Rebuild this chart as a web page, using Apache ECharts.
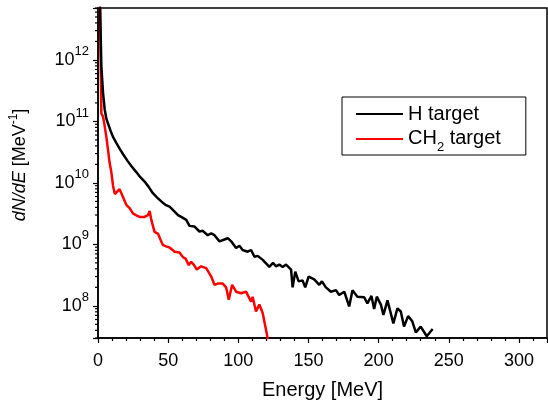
<!DOCTYPE html>
<html>
<head>
<meta charset="utf-8">
<script src="https://cdn.jsdelivr.net/npm/echarts@6/dist/echarts.min.js"></script>
<style>
  html, body { margin: 0; padding: 0; background: #fff; }
  #chart { width: 548px; height: 400px; }
</style>
</head>
<body>
<div id="chart"></div>
<script>
// H target spectrum (energy in MeV, dN/dE in MeV^-1)
const hEnergy = [1.2, 2.4, 3.6, 4.8, 6, 7.1, 9, 10.7, 13, 15.4, 18, 21.3, 24, 27.3, 30, 33.2, 36, 39.1, 42, 45.1,
  48, 51, 54.6, 57, 59.3, 62.9, 65.2, 68.8, 72.3, 74.7, 78.2, 80.7, 83, 86.6, 90.1, 92.5, 94.9, 98.4, 100.8, 103.1,
  106.7, 109.1, 111.5, 113.8, 117.4, 122.1, 124.7, 126.9, 129.2, 131.6, 134, 137.6, 138.7, 140.6, 143, 145.8, 147.7, 150.1, 154.1, 157.7,
  159.6, 162.4, 166, 169.6, 171.9, 175.5, 179, 181.4, 184.9, 186.1, 189.7, 192, 194.9, 196.8, 198.7, 201.6, 203.4, 206.3, 210.5, 213.4,
  215.8, 218.1, 221, 224, 226.5, 230, 234.3, 238.5];
const hFlux = [1.5e13, 7.8e11, 2.9e11, 1.55e11, 1.1e11, 9.3e10, 7e10, 5.6e10, 4.5e10, 3.6e10, 2.9e10, 2.24e10, 1.85e10, 1.5e10, 1.25e10, 1.05e10, 8.7e9, 6.8e9, 5.8e9, 5.0e9,
  4.4e9, 4.1e9, 3.4e9, 3.0e9, 2.8e9, 2.5e9, 2.0e9, 1.95e9, 1.62e9, 1.66e9, 1.41e9, 1.51e9, 1.41e9, 1.12e9, 1.2e9, 1.26e9, 1.12e9, 8.7e8, 9.5e8, 8.1e8,
  7.6e8, 8.1e8, 6.3e8, 6.5e8, 5.6e8, 4.3e8, 5.0e8, 4.4e8, 4.7e8, 4.3e8, 4.7e8, 3.9e8, 2.0e8, 3.6e8, 2.5e8, 2.6e8, 2.0e8, 3.0e8, 2.7e8, 2.2e8,
  2.5e8, 2.0e8, 1.7e8, 1.8e8, 1.5e8, 1.7e8, 9.8e7, 1.8e8, 1.4e8, 1.38e8, 1.38e8, 1.1e8, 1.45e8, 8.9e7, 1.41e8, 1.05e8, 7.1e7, 1.23e8, 5.2e7, 9.1e7,
  8.1e7, 4.6e7, 6.8e7, 5.6e7, 3.7e7, 4.6e7, 3.2e7, 4.2e7];

// CH2 target spectrum
const ch2Energy = [1.2, 2.4, 3.6, 4.8, 6, 7.1, 8.3, 9.5, 10.7, 12, 13.1, 15.4, 17.8, 20.2, 22.5, 24.9, 27, 29.7, 33.2, 35.6,
  36.8, 38, 40.3, 42.7, 44.5, 46.2, 48.5, 51, 54.6, 58.1, 60.5, 62.5, 64.7, 66.4, 68.5, 70.4, 73.5, 77.1, 80.7, 83,
  85.3, 88.9, 91.3, 93.2, 95.6, 98.4, 102, 105.5, 109.1, 110.2, 112.6, 115, 117.4, 120.9, 122];
const ch2Flux = [1.5e13, 1.35e11, 1.2e11, 8.3e10, 5.5e10, 3.5e10, 2.1e10, 1.5e10, 9e9, 6.6e9, 6.3e9, 7.9e9, 5.9e9, 4.4e9, 3.9e9, 3.2e9, 3.0e9, 2.8e9, 2.8e9, 3.0e9,
  3.5e9, 2.5e9, 1.6e9, 1.5e9, 1.2e9, 9.8e8, 9.3e8, 8.9e8, 7.6e8, 7.4e8, 6.2e8, 5.8e8, 4.6e8, 5.2e8, 4.6e8, 3.9e8, 4.4e8, 4.1e8, 3.0e8, 2.2e8,
  2.3e8, 2.3e8, 2.0e8, 1.26e8, 2.2e8, 1.7e8, 1.6e8, 1.7e8, 1.17e8, 1.4e8, 8.1e7, 1.05e8, 7.6e7, 3e7, 1.5e7];

const seriesNames = ['H target', 'CH2 target'];
const seriesColors = ['#000000', '#ff0000'];

const yMin = 3e7;
const yMax = 7e12;
const xMin = 0;
const xMax = 320;

// log minor tick positions (2..9 x 10^n) inside the y range
const minorTickValues = [];
for (let n = 7; n <= 12; n++) {
  for (let k = 2; k <= 9; k++) {
    const v = k * Math.pow(10, n);
    if (v >= yMin && v <= yMax) minorTickValues.push([0, v]);
  }
}

const font = 'Liberation Sans';
const chart = echarts.init(document.getElementById('chart'));

const option = {
  backgroundColor: '#fff',
  animation: false,
  grid: {
    left: 98, right: 1, top: 8, bottom: 62,
    show: true, borderColor: '#000', borderWidth: 1.5,
    outerBoundsMode: 'none'
  },
  legend: {
    data: seriesNames.map(n => ({ name: n, icon: 'rect' })),
    orient: 'vertical',
    left: 342,
    top: 97,
    padding: [7, 25, 1, 14],
    itemGap: 0,
    itemWidth: 47,
    itemHeight: 2,
    borderColor: '#000',
    borderWidth: 1,
    backgroundColor: '#fff',
    textStyle: {
      fontFamily: font,
      color: '#000',
      rich: {
        p: { fontFamily: font, fontSize: 20, lineHeight: 20, color: '#000', verticalAlign: 'middle' },
        m: { fontFamily: font, fontSize: 20, lineHeight: 30, color: '#000', verticalAlign: 'top', padding: [4, 0, 0, 0] },
        sub: { fontFamily: font, fontSize: 13, color: '#000', verticalAlign: 'bottom' }
      }
    },
    formatter: name => name === 'CH2 target' ? '{m|CH}{sub|2}{m| target}' : '{p|' + name + '}'
  },
  xAxis: {
    type: 'value',
    min: xMin,
    max: xMax,
    interval: 50,
    name: 'Energy [MeV]',
    nameLocation: 'middle',
    nameGap: 42,
    nameTextStyle: { fontFamily: font, fontSize: 20, color: '#000' },
    axisLine: { lineStyle: { color: '#000', width: 1.5 } },
    axisTick: { length: 5, lineStyle: { color: '#000', width: 1.2 } },
    minorTick: { show: true, splitNumber: 5, length: 3, lineStyle: { color: '#000', width: 1.2 } },
    splitLine: { show: false },
    axisLabel: { fontFamily: font, fontSize: 18, color: '#000', margin: 14, showMaxLabel: false }
  },
  yAxis: {
    type: 'log',
    logBase: 10,
    min: yMin,
    max: yMax,
    name: '{i|dN/dE}{n| [MeV}{s|-1}{n|]}',
    nameLocation: 'middle',
    nameGap: 66,
    nameTextStyle: {
      fontFamily: font, fontSize: 18, color: '#000',
      padding: [0, 0, 0, 16],
      rich: {
        i: { fontFamily: font, fontSize: 18, fontStyle: 'italic', color: '#000', lineHeight: 24, verticalAlign: 'middle' },
        n: { fontFamily: font, fontSize: 18, color: '#000', lineHeight: 24, verticalAlign: 'middle' },
        s: { fontFamily: font, fontSize: 12, color: '#000', verticalAlign: 'top' }
      }
    },
    axisLine: { lineStyle: { color: '#000', width: 1.5 } },
    axisTick: { length: 5, lineStyle: { color: '#000', width: 1.2 } },
    splitLine: { show: false },
    axisLabel: {
      margin: 9,
      formatter: v => {
        const e = Math.log10(v);
        const n = Math.round(e);
        if (Math.abs(e - n) > 1e-6) return '';
        return '{b|10}{s|' + n + '}';
      },
      rich: {
        b: { fontFamily: font, fontSize: 18, color: '#000', lineHeight: 30, verticalAlign: 'middle' },
        s: { fontFamily: font, fontSize: 13, color: '#000', verticalAlign: 'top' }
      }
    }
  },
  series: [
    {
      name: seriesNames[0],
      type: 'line',
      data: hEnergy.map((e, i) => [e, hFlux[i]]),
      symbol: 'none',
      clip: true,
      lineStyle: { color: seriesColors[0], width: 2.5 },
      itemStyle: { color: seriesColors[0] },
      z: 3
    },
    {
      name: seriesNames[1],
      type: 'line',
      data: ch2Energy.map((e, i) => [e, ch2Flux[i]]),
      symbol: 'none',
      clip: true,
      lineStyle: { color: seriesColors[1], width: 2.5 },
      itemStyle: { color: seriesColors[1] },
      z: 2
    },
    {
      name: 'minorTicks',
      type: 'custom',
      silent: true,
      clip: false,
      data: minorTickValues,
      renderItem: (params, api) => {
        const p = api.coord([api.value(0), api.value(1)]);
        return {
          type: 'line',
          shape: { x1: p[0] - 3, y1: p[1], x2: p[0], y2: p[1] },
          style: { stroke: '#000', lineWidth: 1.2 }
        };
      },
      z: 5
    }
  ]
};

chart.setOption(option);
</script>
</body>
</html>
